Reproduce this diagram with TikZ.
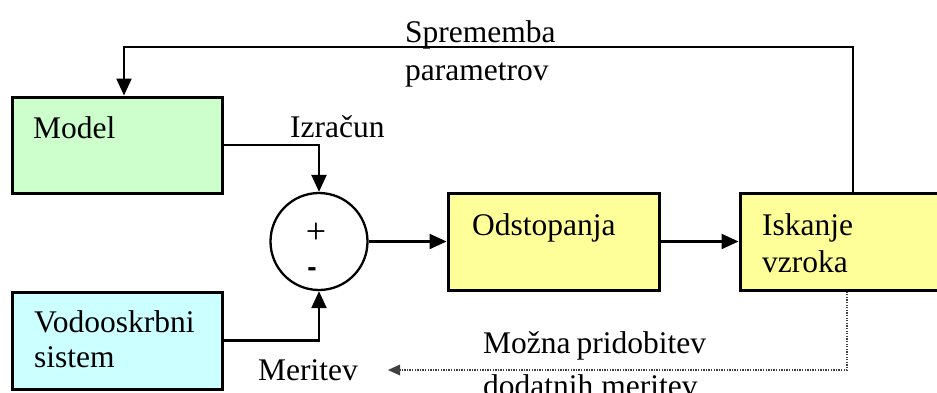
\documentclass[tikz,border=0pt]{standalone}
\usepackage{fontspec}
\setmainfont{Liberation Serif}
\newfontfamily\minusfont{Liberation Sans}
\usetikzlibrary{arrows.meta,calc}
\definecolor{mgreen}{HTML}{CCFFCC}
\definecolor{mcyan}{HTML}{CCFFFF}
\definecolor{myellow}{HTML}{FFFF99}
\begin{document}
\begin{tikzpicture}[x=1pt,y=-1pt,
  box/.style={draw=black,line width=3pt,rectangle,inner sep=0pt},
  lbl/.style={anchor=base west,inner sep=0pt,font=\fontsize{31.5}{38}\selectfont,text=black},
  conn/.style={draw=black,line width=2.3pt},
  arr/.style={conn,-{Triangle[length=17pt,width=15pt]}},
  dotconn/.style={draw=black!75,line width=1.3pt,dash pattern=on 1.3pt off 1.3pt,-{Triangle[length=12pt,width=11pt,line width=0pt]}}]
\useasboundingbox (0,0) rectangle (937,392);
\clip (0,0) rectangle (937,392);
\fill[white] (0,0) rectangle (937,392);
% boxes
\node[box,fill=mgreen,minimum width=210pt,minimum height=96pt] (model) at (117,145) {};
\node[box,fill=mcyan,minimum width=210pt,minimum height=97pt] (vodo) at (117,340.5) {};
\node[box,fill=myellow,minimum width=211pt,minimum height=97pt] (odst) at (553.5,241.5) {};
\node[box,fill=myellow,minimum width=210pt,minimum height=97pt] (isk) at (845,241.5) {};
\node[draw=black,line width=2.3pt,circle,minimum size=97pt,inner sep=0pt] (sum) at (319,241.5) {};
% texts
\node[lbl] (tmodel) at (33,138) {Model};
\node[lbl] (tvodo1) at (34,332) {Vodooskrbni};
\node[lbl] (tvodo2) at (34,367) {sistem};
\node[lbl] (todst) at (472,235) {Odstopanja};
\node[lbl] (tisk1) at (762,235) {Iskanje};
\node[lbl] (tisk2) at (762,272) {vzroka};
\node[lbl] (tizr) at (290,137) {Izračun};
\node[lbl] (tspr1) at (405,42) {Sprememba};
\node[lbl] (tspr2) at (405,80) {parametrov};
\node[lbl] (tmer) at (258,380) {Meritev};
\node[lbl] (tmoz1) at (483,353) {Možna\hspace{6pt}pridobitev};
\node[lbl] (tmoz2) at (483,396) {dodatnih meritev};
\node[anchor=center,inner sep=0pt,font=\fontsize{36}{40}\selectfont] (plus) at (316,233) {+};
\node[anchor=center,inner sep=0pt,font=\minusfont\fontsize{28}{32}\selectfont\bfseries] (minus) at (312,272) {-};
% connectors
\coordinate (fbR) at (853,47);
\coordinate (fbL) at (124,47);
\draw[arr] (isk.north -| fbR) -- (fbR) -- (fbL) -- (model.north -| fbL);
\draw[arr] (model.east) -| (sum.north);
\draw[arr] (vodo.east) -| (sum.south);
\draw[arr] (sum.east) -- (odst.west);
\draw[arr] (odst.east) -- (isk.west);
\coordinate (dm) at (847,370);
\coordinate (dtip) at (388,370);
\draw[dotconn] (isk.south -| dm) -- (dm) -- (dtip);
\end{tikzpicture}
\end{document}
